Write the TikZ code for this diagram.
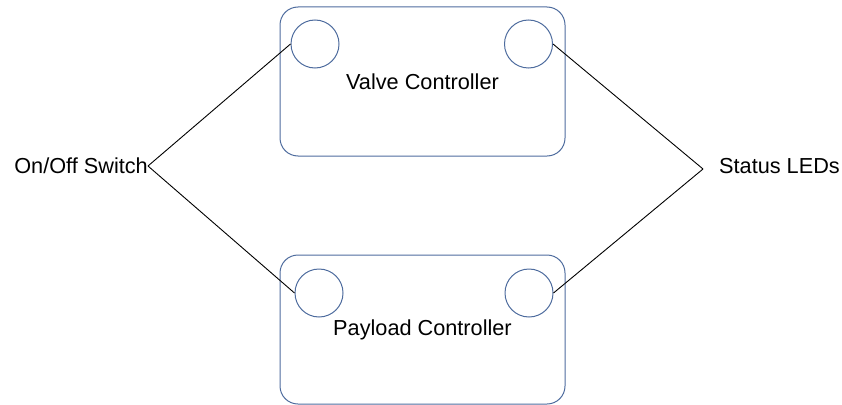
\documentclass[tikz,border=0pt]{standalone}
\usepackage{fontspec}
\setmainfont{Liberation Sans}
\usetikzlibrary{shapes.geometric}
\definecolor{ctrlblue}{RGB}{78,108,158}

\begin{document}
\begin{tikzpicture}
[every node/.style={inner sep=0pt, font=\fontsize{21.7}{26}\selectfont},
 ctrlbox/.style={rectangle, rounded corners=18pt, minimum width=285pt, minimum height=149pt, line width=1pt, draw=ctrlblue},
 port/.style={circle, minimum size=48pt, line width=1pt, draw=ctrlblue},
 wire/.style={line width=0.9pt, color=black}]
\useasboundingbox (0pt, 0pt) rectangle (842pt, -404pt);
\node (valve) [ctrlbox] at (422.5pt, -81.5pt) {Valve Controller};
\node (payload) [ctrlbox] at (422.5pt, -329.5pt) {Payload Controller};
\node (vl) [port] at (315.0pt, -44.0pt) {};
\node (vr) [port] at (528.5pt, -44.0pt) {};
\node (pl) [port] at (319.0pt, -293.0pt) {};
\node (pr) [port] at (529.0pt, -293.0pt) {};
\node (switch) [anchor=east] at (148.0pt, -166.0pt) {On/Off Switch};
\node (leds) [anchor=west] at (719.0pt, -166.0pt) {Status LEDs};
\coordinate (ledsjoin) at (703.0pt, -169.0pt);
\draw [wire] (switch.east) to (vl.west);
\draw [wire] (switch.east) to (pl.west);
\draw [wire] (ledsjoin) to (vr.east);
\draw [wire] (ledsjoin) to (pr.east);
\end{tikzpicture}
\end{document}
